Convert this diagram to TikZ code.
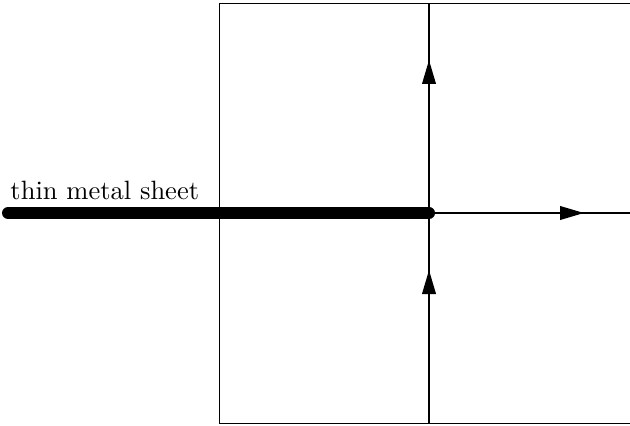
\documentclass[tikz,border=0pt]{standalone}
\usetikzlibrary{arrows.meta}
\begin{document}
\begin{tikzpicture}[x=0.4pt,y=-0.4pt,
  frame/.style={line width=0.4pt},
  axis/.style={line width=0.6pt},
  sheet/.style={line width=4.8pt,line cap=round},
  flow/.style={line width=0.9pt,-{Triangle[length=9.6pt,width=5.4pt]}}]
\useasboundingbox (0,0) rectangle (630,425);
\coordinate (tr) at (632,4);
\coordinate (tl) at (219,4);
\coordinate (bl) at (219,423);
\coordinate (br) at (632,423);
\draw[frame] (tr) -- (tl) -- (bl) -- (br);
\coordinate (vt) at (429,4);
\coordinate (vb) at (429,423);
\coordinate (c) at (429,213);
\coordinate (r) at (632,213);
\coordinate (s) at (8,213);
\draw[axis] (vt) -- (vb);
\draw[axis] (c) -- (r);
\draw[sheet] (s) -- (c);
\node[anchor=base west,inner sep=0pt,font=\fontsize{10.6}{12}\selectfont] (lbl) at (10,199) {thin metal sheet};
\coordinate (a1s) at (429,161);
\coordinate (a1e) at (429,60);
\coordinate (a2s) at (429,370);
\coordinate (a2e) at (429,270);
\coordinate (a3s) at (482,213);
\coordinate (a3e) at (584,213);
\draw[flow] (a1s) -- (a1e);
\draw[flow] (a2s) -- (a2e);
\draw[flow] (a3s) -- (a3e);
\end{tikzpicture}
\end{document}
